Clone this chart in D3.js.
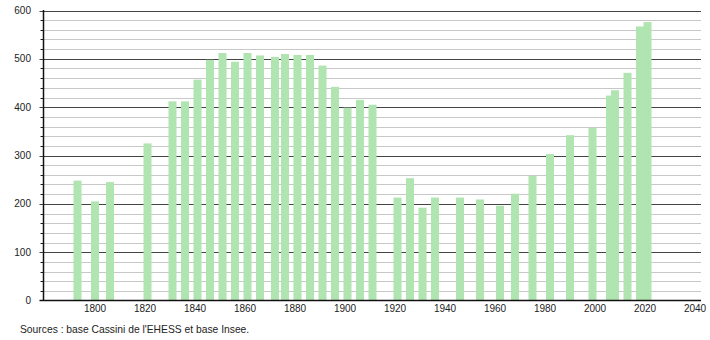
<!DOCTYPE html>
<html><head><meta charset="utf-8">
<script src="https://cdn.jsdelivr.net/npm/d3@7"></script>
<style>body{margin:0;background:#fff;} svg{display:block;font-family:"Liberation Sans",Arial,sans-serif;}</style>
</head><body>
<svg id="c" width="710" height="340"></svg>
<script>
const years = [1793,1800,1806,1821,1831,1836,1841,1846,1851,1856,1861,1866,1872,1876,1881,1886,1891,1896,1901,1906,1911,1921,1926,1931,1936,1946,1954,1962,1968,1975,1982,1990,1999,2006,2008,2013,2018,2021];
const population = [248,205,245,325,412,412,457,498,512,494,512,507,504,510,508,508,486,442,399,415,405,213,253,192,213,213,209,196,221,258,303,342,357,424,435,471,567,576];
const xTicks = [1800,1820,1840,1860,1880,1900,1920,1940,1960,1980,2000,2020,2040];
const yTicks = [0,100,200,300,400,500,600];
const source = "Sources : base Cassini de l'EHESS et base Insee.";

const svg = d3.select("#c");
const x = d3.scaleLinear().domain([1800,2040]).range([95,695]);
const y = d3.scaleLinear().domain([0,600]).range([300.5,10.5]);
const left = 43.5, right = 701;

// minor grid
const minor = d3.range(20,600,20).filter(v=>v%100!==0);
svg.append("g").selectAll("line").data(minor).join("line")
  .attr("x1",left).attr("x2",right).attr("y1",d=>Math.round(y(d))+0.5).attr("y2",d=>Math.round(y(d))+0.5)
  .attr("stroke","#c8c8c8").attr("stroke-width",1);
svg.append("g").selectAll("line").data(minor).join("line")
  .attr("x1",left-3).attr("x2",left).attr("y1",d=>Math.round(y(d))+0.5).attr("y2",d=>Math.round(y(d))+0.5)
  .attr("stroke","#222").attr("stroke-width",1);
// major grid
svg.append("g").selectAll("line").data(yTicks.filter(v=>v>0)).join("line")
  .attr("x1",left-4).attr("x2",right).attr("y1",d=>Math.round(y(d))+0.5).attr("y2",d=>Math.round(y(d))+0.5)
  .attr("stroke","#444").attr("stroke-width",1);

// bars
svg.append("g").selectAll("rect").data(years).join("rect")
  .attr("x",(d)=>x(d)-4).attr("width",8)
  .attr("y",(d,i)=>y(population[i])).attr("height",(d,i)=>y(0)-y(population[i]))
  .attr("fill","#b0e4b0");

// axes lines
svg.append("line").attr("x1",left).attr("x2",left).attr("y1",10).attr("y2",301)
  .attr("stroke","#111").attr("stroke-width",1.5);
svg.append("line").attr("x1",left-4).attr("x2",right).attr("y1",300.5).attr("y2",300.5)
  .attr("stroke","#111").attr("stroke-width",1.5);

// y labels
svg.append("g").selectAll("text").data(yTicks).join("text")
  .attr("x",31).attr("y",d=>y(d)+3.5).attr("text-anchor","end")
  .attr("font-size",10).attr("fill","#222").text(d=>d);
// x labels
svg.append("g").selectAll("text").data(xTicks).join("text")
  .attr("x",d=>x(d)).attr("y",312).attr("text-anchor","middle")
  .attr("font-size",10).attr("fill","#222").text(d=>d);
// source
svg.append("text").attr("x",20).attr("y",333).attr("font-size",10.3).attr("fill","#222").text(source);
</script>
</body></html>
